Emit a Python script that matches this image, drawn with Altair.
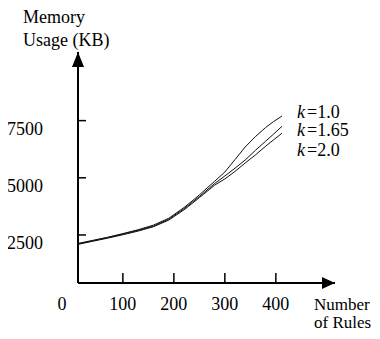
import altair as alt
import pandas as pd

# ---- data ----
rules = [12, 40, 70, 100, 130, 160, 190, 220, 250, 280, 300, 320, 340, 360, 380, 395, 412]
k_labels = ["1.0", "1.65", "2.0"]
mem_k10 = [2130, 2260, 2400, 2560, 2730, 2930, 3230, 3700, 4250, 4850, 5250, 5800, 6350, 6800, 7200, 7450, 7700]
mem_k165 = [2110, 2240, 2380, 2540, 2700, 2890, 3190, 3650, 4180, 4750, 5080, 5420, 5780, 6200, 6600, 6900, 7250]
mem_k20 = [2090, 2220, 2360, 2510, 2670, 2860, 3150, 3600, 4130, 4680, 4950, 5280, 5650, 6000, 6380, 6650, 6950]
x_ticks = [100, 200, 300, 400]
y_ticks = [2500, 5000, 7500]

series = {"1.0": mem_k10, "1.65": mem_k165, "2.0": mem_k20}
rows = []
for k, vals in series.items():
    for xv, yv in zip(rules, vals):
        rows.append({"rules": xv, "mem": yv, "k": k})
df = pd.DataFrame(rows)
xt = pd.DataFrame({"v": x_ticks, "lab": [str(v) for v in x_ticks]})
yt = pd.DataFrame({"v": y_ticks, "lab": [str(v) for v in y_ticks]})

W, H = 257, 231
FONT = "Liberation Serif"
FS = 18

xs = alt.Scale(domain=[12, 516], nice=False, zero=False)
ys = alt.Scale(domain=[400, 10500], nice=False, zero=False)

lines = alt.Chart(df).mark_line(color="#111111", strokeWidth=1).encode(
    x=alt.X("rules:Q", scale=xs, axis=None),
    y=alt.Y("mem:Q", scale=ys, axis=None),
    detail="k:N",
)

base_one = alt.Chart(pd.DataFrame({"a": [0]}))

yaxis = base_one.mark_rule(color="black", strokeWidth=2).encode(
    x=alt.value(0), y=alt.value(0), y2=alt.value(H))
xaxis = base_one.mark_rule(color="black", strokeWidth=2).encode(
    x=alt.value(0), x2=alt.value(W), y=alt.value(H))

yarrow = base_one.mark_point(shape="M0,0L-1.2,3L1.2,3Z", size=100, filled=True,
                             color="black", opacity=1, strokeWidth=0).encode(
    x=alt.value(0), y=alt.value(0))
xarrow = base_one.mark_point(shape="M0,0L-2.6,-1.2L-2.6,1.2Z", size=100, filled=True,
                             color="black", opacity=1, strokeWidth=0).encode(
    x=alt.value(W), y=alt.value(H))

xtick_marks = alt.Chart(xt).mark_rule(color="black", strokeWidth=1.5).encode(
    x=alt.X("v:Q", scale=xs, axis=None), y=alt.value(H), y2=alt.value(H - 10))
ytick_marks = alt.Chart(yt).mark_rule(color="black", strokeWidth=1.5).encode(
    y=alt.Y("v:Q", scale=ys, axis=None), x=alt.value(0), x2=alt.value(8))

xlab = alt.Chart(xt).mark_text(font=FONT, fontSize=FS, align="center",
                               baseline="alphabetic", color="black").encode(
    x=alt.X("v:Q", scale=xs, axis=None), y=alt.value(258), text="lab:N")
ylab = alt.Chart(yt).mark_text(font=FONT, fontSize=FS, align="right",
                               baseline="middle", dx=-35, dy=9, color="black").encode(
    y=alt.Y("v:Q", scale=ys, axis=None), x=alt.value(0), text="lab:N")

def txt(s, x, y, align="left", style="normal", fs=FS):
    return base_one.mark_text(font=FONT, fontSize=fs, align=align, baseline="alphabetic",
                              fontStyle=style, color="black", text=s).encode(
        x=alt.value(x), y=alt.value(y))

texts = [
    txt("0", -16, 258, align="center"),
    txt("Memory", -55, -29),
    txt("Usage (KB)", -55, -6),
    txt("Number", 236, 258, fs=17),
    txt("of Rules", 236, 276, fs=17),
]
leg_y = [66, 84, 104]
for lab, yy in zip(k_labels, leg_y):
    texts.append(txt("k", 219, yy, style="italic"))
    texts.append(txt("=" + lab, 229, yy))

chart = alt.layer(lines, yaxis, xaxis, yarrow, xarrow, xtick_marks, ytick_marks,
                  xlab, ylab, *texts).properties(
    width=W, height=H,
    autosize=alt.AutoSizeParams(type="none"),
    padding={"left": 70, "top": 44, "right": 37, "bottom": 48},
    background="white",
).configure_view(stroke=None)

chart.save("out.html", embed_options={"renderer": "svg", "actions": False})
